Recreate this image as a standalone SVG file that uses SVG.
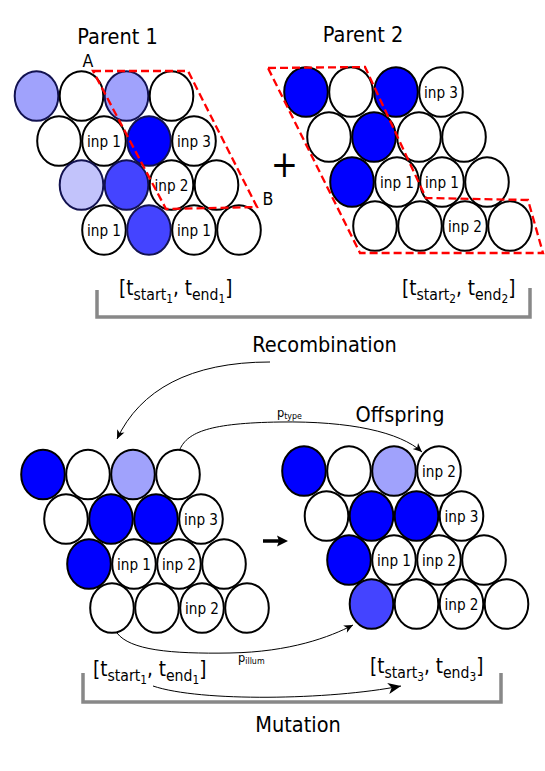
<svg xmlns="http://www.w3.org/2000/svg" width="545" height="771" viewBox="0 0 545 771">
<style>
text{font-family:"DejaVu Sans","Liberation Sans",sans-serif;fill:#000}
.c{stroke:#000;stroke-width:2}
.cn{stroke:#121250;stroke-width:2}
.w{fill:#fff}
.b{fill:#0000ff}
.mb{fill:#4444ff}
.lb{fill:#a0a2fc}
.llb{fill:#c2c3fb}
.lab{font-size:15.5px}
.ttl{font-size:22px}
.ab{font-size:18px}
.br{fill:none;stroke:#888;stroke-width:3.5}
.red{fill:none;stroke:#ff0000;stroke-width:2.3;stroke-dasharray:8 4}
.ar{fill:none;stroke:#000;stroke-width:1}
.m{font-size:21px}
.sub{font-size:16px}
.ss{font-size:12px}
</style>
<defs>
<marker id="ah" viewBox="-10 -5 12 10" markerWidth="12" markerHeight="10" refX="0" refY="0" orient="auto" markerUnits="userSpaceOnUse"><path d="M0,0 L-9,-4 L-6.5,0 L-9,4 Z" fill="#000"/></marker>
<marker id="ahL" viewBox="-15 -7 17 14" markerWidth="17" markerHeight="14" refX="0" refY="0" orient="auto" markerUnits="userSpaceOnUse"><path d="M0,0 L-13,-5.5 L-9.5,0 L-13,5.5 Z" fill="#000"/></marker>
<marker id="ahT" viewBox="-4 -7 14 14" markerWidth="14" markerHeight="14" refX="0" refY="0" orient="auto" markerUnits="userSpaceOnUse"><path d="M8,0 L-3,-5.5 L-1,0 L-3,5.5 Z" fill="#000"/></marker>
</defs>

<!-- Parent 1 -->
<g id="parent1">
<g id="p1-r1c1"><ellipse class="cn lb" cx="36.5" cy="96" rx="21.8" ry="24.8"/></g>
<g id="p1-r1c2"><ellipse class="c w" cx="81.5" cy="96" rx="21.8" ry="24.8"/></g>
<g id="p1-r1c3"><ellipse class="cn lb" cx="126.5" cy="96" rx="21.8" ry="24.8"/></g>
<g id="p1-r1c4"><ellipse class="c w" cx="171.5" cy="96" rx="21.8" ry="24.8"/></g>
<g id="p1-r2c1"><ellipse class="c w" cx="59" cy="141" rx="21.8" ry="24.8"/></g>
<g id="p1-r2c2"><ellipse class="c w" cx="104" cy="141" rx="21.8" ry="24.8"/><text class="lab" text-anchor="middle" transform="translate(104,146.5) scale(0.88,1)">inp 1</text></g>
<g id="p1-r2c3"><ellipse class="cn b" cx="149" cy="141" rx="21.8" ry="24.8"/></g>
<g id="p1-r2c4"><ellipse class="c w" cx="194" cy="141" rx="21.8" ry="24.8"/><text class="lab" text-anchor="middle" transform="translate(194,146.5) scale(0.88,1)">inp 3</text></g>
<g id="p1-r3c1"><ellipse class="cn llb" cx="81.5" cy="185" rx="21.8" ry="24.8"/></g>
<g id="p1-r3c2"><ellipse class="cn mb" cx="126.5" cy="185" rx="21.8" ry="24.8"/></g>
<g id="p1-r3c3"><ellipse class="c w" cx="171.5" cy="185" rx="21.8" ry="24.8"/><text class="lab" text-anchor="middle" transform="translate(171.5,190.5) scale(0.88,1)">inp 2</text></g>
<g id="p1-r3c4"><ellipse class="c w" cx="216.5" cy="185" rx="21.8" ry="24.8"/></g>
<g id="p1-r4c1"><ellipse class="c w" cx="104" cy="230" rx="21.8" ry="24.8"/><text class="lab" text-anchor="middle" transform="translate(104,235.5) scale(0.88,1)">inp 1</text></g>
<g id="p1-r4c2"><ellipse class="cn mb" cx="149" cy="230" rx="21.8" ry="24.8"/></g>
<g id="p1-r4c3"><ellipse class="c w" cx="194" cy="230" rx="21.8" ry="24.8"/><text class="lab" text-anchor="middle" transform="translate(194,235.5) scale(0.88,1)">inp 1</text></g>
<g id="p1-r4c4"><ellipse class="c w" cx="239" cy="230" rx="21.8" ry="24.8"/></g>
<polygon id="p1-cut" class="red" points="93,71 188,71 257,207 166,209"/>
</g>

<!-- Parent 2 -->
<g id="parent2">
<g id="p2-r1c1"><ellipse class="c b" cx="306" cy="92" rx="21.8" ry="24.8"/></g>
<g id="p2-r1c2"><ellipse class="c w" cx="351" cy="92" rx="21.8" ry="24.8"/></g>
<g id="p2-r1c3"><ellipse class="c b" cx="396" cy="92" rx="21.8" ry="24.8"/></g>
<g id="p2-r1c4"><ellipse class="c w" cx="441" cy="92" rx="21.8" ry="24.8"/><text class="lab" text-anchor="middle" transform="translate(441,97.5) scale(0.88,1)">inp 3</text></g>
<g id="p2-r2c1"><ellipse class="c w" cx="329" cy="137" rx="21.8" ry="24.8"/></g>
<g id="p2-r2c2"><ellipse class="c b" cx="374" cy="137" rx="21.8" ry="24.8"/></g>
<g id="p2-r2c3"><ellipse class="c w" cx="419" cy="137" rx="21.8" ry="24.8"/></g>
<g id="p2-r2c4"><ellipse class="c w" cx="464" cy="137" rx="21.8" ry="24.8"/></g>
<g id="p2-r3c1"><ellipse class="c b" cx="352" cy="182" rx="21.8" ry="24.8"/></g>
<g id="p2-r3c2"><ellipse class="c w" cx="397" cy="182" rx="21.8" ry="24.8"/><text class="lab" text-anchor="middle" transform="translate(397,187.5) scale(0.88,1)">inp 1</text></g>
<g id="p2-r3c3"><ellipse class="c w" cx="442" cy="182" rx="21.8" ry="24.8"/><text class="lab" text-anchor="middle" transform="translate(442,187.5) scale(0.88,1)">inp 1</text></g>
<g id="p2-r3c4"><ellipse class="c w" cx="487" cy="182" rx="21.8" ry="24.8"/></g>
<g id="p2-r4c1"><ellipse class="c w" cx="375" cy="226" rx="21.8" ry="24.8"/></g>
<g id="p2-r4c2"><ellipse class="c w" cx="420" cy="226" rx="21.8" ry="24.8"/></g>
<g id="p2-r4c3"><ellipse class="c w" cx="465" cy="226" rx="21.8" ry="24.8"/><text class="lab" text-anchor="middle" transform="translate(465,231.5) scale(0.88,1)">inp 2</text></g>
<g id="p2-r4c4"><ellipse class="c w" cx="510" cy="226" rx="21.8" ry="24.8"/></g>
<polygon id="p2-cut" class="red" points="268,68 365,67 426,198 528,200 543,253 360,253"/>
</g>

<!-- Child before mutation -->
<g id="child">
<g id="c-r1c1"><ellipse class="c b" cx="43" cy="474.5" rx="21.8" ry="24.8"/></g>
<g id="c-r1c2"><ellipse class="c w" cx="88" cy="474.5" rx="21.8" ry="24.8"/></g>
<g id="c-r1c3"><ellipse class="c lb" cx="133" cy="474.5" rx="21.8" ry="24.8"/></g>
<g id="c-r1c4"><ellipse class="c w" cx="178" cy="474.5" rx="21.8" ry="24.8"/></g>
<g id="c-r2c1"><ellipse class="c w" cx="66" cy="519" rx="21.8" ry="24.8"/></g>
<g id="c-r2c2"><ellipse class="c b" cx="111" cy="519" rx="21.8" ry="24.8"/></g>
<g id="c-r2c3"><ellipse class="c b" cx="156" cy="519" rx="21.8" ry="24.8"/></g>
<g id="c-r2c4"><ellipse class="c w" cx="201" cy="519" rx="21.8" ry="24.8"/><text class="lab" text-anchor="middle" transform="translate(201,524.5) scale(0.88,1)">inp 3</text></g>
<g id="c-r3c1"><ellipse class="c b" cx="89" cy="564" rx="21.8" ry="24.8"/></g>
<g id="c-r3c2"><ellipse class="c w" cx="134" cy="564" rx="21.8" ry="24.8"/><text class="lab" text-anchor="middle" transform="translate(134,569.5) scale(0.88,1)">inp 1</text></g>
<g id="c-r3c3"><ellipse class="c w" cx="179" cy="564" rx="21.8" ry="24.8"/><text class="lab" text-anchor="middle" transform="translate(179,569.5) scale(0.88,1)">inp 2</text></g>
<g id="c-r3c4"><ellipse class="c w" cx="224" cy="564" rx="21.8" ry="24.8"/></g>
<g id="c-r4c1"><ellipse class="c w" cx="112" cy="608" rx="21.8" ry="24.8"/></g>
<g id="c-r4c2"><ellipse class="c w" cx="157" cy="608" rx="21.8" ry="24.8"/></g>
<g id="c-r4c3"><ellipse class="c w" cx="202" cy="608" rx="21.8" ry="24.8"/><text class="lab" text-anchor="middle" transform="translate(202,613.5) scale(0.88,1)">inp 2</text></g>
<g id="c-r4c4"><ellipse class="c w" cx="247" cy="608" rx="21.8" ry="24.8"/></g>
</g>

<!-- Offspring -->
<g id="offspring">
<g id="o-r1c1"><ellipse class="c b" cx="304" cy="471" rx="21.8" ry="24.8"/></g>
<g id="o-r1c2"><ellipse class="c w" cx="349" cy="471" rx="21.8" ry="24.8"/></g>
<g id="o-r1c3"><ellipse class="c lb" cx="394" cy="471" rx="21.8" ry="24.8"/></g>
<g id="o-r1c4"><ellipse class="c w" cx="439" cy="471" rx="21.8" ry="24.8"/><text class="lab" text-anchor="middle" transform="translate(439,476.5) scale(0.88,1)">inp 2</text></g>
<g id="o-r2c1"><ellipse class="c w" cx="326.5" cy="516" rx="21.8" ry="24.8"/></g>
<g id="o-r2c2"><ellipse class="c b" cx="371.5" cy="516" rx="21.8" ry="24.8"/></g>
<g id="o-r2c3"><ellipse class="c b" cx="416.5" cy="516" rx="21.8" ry="24.8"/></g>
<g id="o-r2c4"><ellipse class="c w" cx="461.5" cy="516" rx="21.8" ry="24.8"/><text class="lab" text-anchor="middle" transform="translate(461.5,521.5) scale(0.88,1)">inp 3</text></g>
<g id="o-r3c1"><ellipse class="c b" cx="349" cy="560" rx="21.8" ry="24.8"/></g>
<g id="o-r3c2"><ellipse class="c w" cx="394" cy="560" rx="21.8" ry="24.8"/><text class="lab" text-anchor="middle" transform="translate(394,565.5) scale(0.88,1)">inp 1</text></g>
<g id="o-r3c3"><ellipse class="c w" cx="439" cy="560" rx="21.8" ry="24.8"/><text class="lab" text-anchor="middle" transform="translate(439,565.5) scale(0.88,1)">inp 2</text></g>
<g id="o-r3c4"><ellipse class="c w" cx="484" cy="560" rx="21.8" ry="24.8"/></g>
<g id="o-r4c1"><ellipse class="c mb" cx="371.5" cy="604" rx="21.8" ry="24.8"/></g>
<g id="o-r4c2"><ellipse class="c w" cx="416.5" cy="604" rx="21.8" ry="24.8"/></g>
<g id="o-r4c3"><ellipse class="c w" cx="461.5" cy="604" rx="21.8" ry="24.8"/><text class="lab" text-anchor="middle" transform="translate(461.5,609.5) scale(0.88,1)">inp 2</text></g>
<g id="o-r4c4"><ellipse class="c w" cx="506.5" cy="604" rx="21.8" ry="24.8"/></g>
</g>

<!-- Titles and labels -->
<g id="labels">
<text class="ttl" text-anchor="middle" transform="translate(117.5,44) scale(0.88,1)">Parent 1</text>
<text class="ttl" text-anchor="middle" transform="translate(363,42) scale(0.88,1)">Parent 2</text>
<text class="ab" text-anchor="middle" transform="translate(88,66.5) scale(0.88,1)">A</text>
<text class="ab" text-anchor="middle" transform="translate(268,205) scale(0.88,1)">B</text>
<text text-anchor="middle" font-size="37" transform="translate(284.5,176.5) scale(0.88,1)">+</text>
<text class="ttl" text-anchor="middle" transform="translate(324.5,352) scale(0.88,1)">Recombination</text>
<text class="ttl" text-anchor="middle" transform="translate(400,422) scale(0.88,1)">Offspring</text>
<text class="ttl" text-anchor="middle" transform="translate(298,732) scale(0.88,1)">Mutation</text>
<text font-size="13" transform="translate(277,417) scale(0.88,1)">p<tspan font-size="9" dy="2">type</tspan></text>
<text font-size="13" transform="translate(238,662) scale(0.88,1)">p<tspan font-size="9" dy="2">illum</tspan></text>
<text class="m" transform="translate(119,295) scale(0.88,1)">[t<tspan class="sub" dy="5">start</tspan><tspan class="ss" dy="3">1</tspan><tspan dy="-8">, t</tspan><tspan class="sub" dy="5">end</tspan><tspan class="ss" dy="3">1</tspan><tspan dy="-8">]</tspan></text>
<text class="m" transform="translate(402,295) scale(0.88,1)">[t<tspan class="sub" dy="5">start</tspan><tspan class="ss" dy="3">2</tspan><tspan dy="-8">, t</tspan><tspan class="sub" dy="5">end</tspan><tspan class="ss" dy="3">2</tspan><tspan dy="-8">]</tspan></text>
<text class="m" transform="translate(93,676) scale(0.88,1)">[t<tspan class="sub" dy="5">start</tspan><tspan class="ss" dy="3">1</tspan><tspan dy="-8">, t</tspan><tspan class="sub" dy="5">end</tspan><tspan class="ss" dy="3">1</tspan><tspan dy="-8">]</tspan></text>
<text class="m" transform="translate(370,673) scale(0.88,1)">[t<tspan class="sub" dy="5">start</tspan><tspan class="ss" dy="3">3</tspan><tspan dy="-8">, t</tspan><tspan class="sub" dy="5">end</tspan><tspan class="ss" dy="3">3</tspan><tspan dy="-8">]</tspan></text>
</g>

<!-- Connectors -->
<g id="connectors">
<path class="br" d="M97,290 V317 H530 V288"/>
<path class="br" d="M83,673 V702 H501 V673"/>
<path class="ar" d="M270,362 C190,362 140,390 117,439" marker-end="url(#ah)"/>
<path class="ar" d="M180,449 C188,432 210,423 280,422 C350,421 400,432 422,452" marker-end="url(#ah)"/>
<path class="ar" d="M117,633 C130,650 170,654 230,653 C290,652 330,637 353,625" marker-end="url(#ah)"/>
<path class="ar" d="M153,686 C200,702 330,700 401,686" marker-end="url(#ahL)"/>
<path d="M263,541 H280" fill="none" stroke="#000" stroke-width="3.5" marker-end="url(#ahT)"/>
</g>
</svg>
